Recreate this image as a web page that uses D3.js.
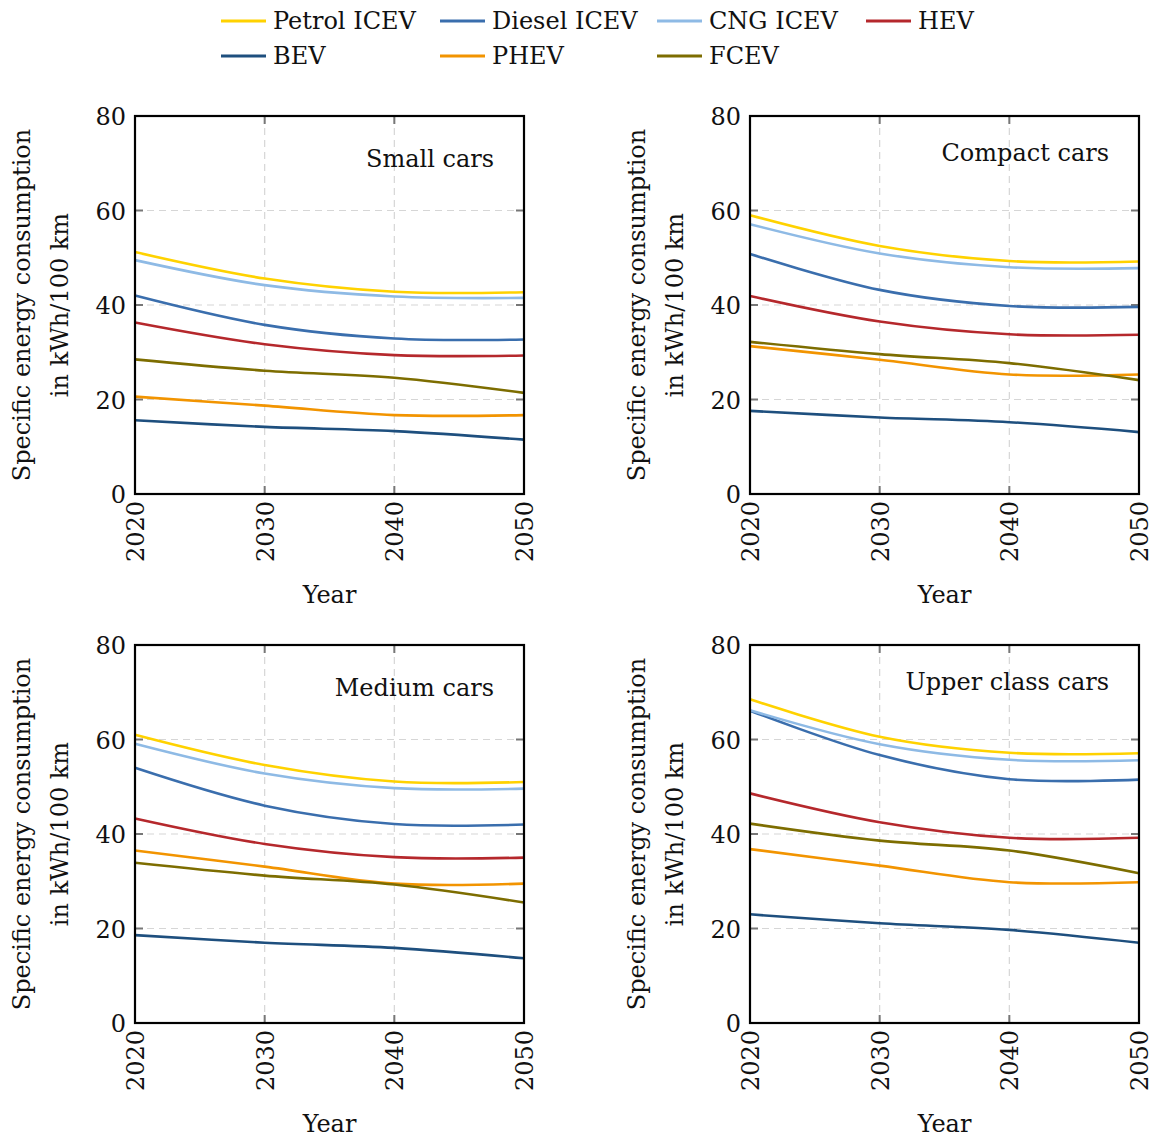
<!DOCTYPE html>
<html>
<head>
<meta charset="utf-8">
<script src="https://cdn.jsdelivr.net/npm/d3@7"></script>
<style>
  body { margin: 0; background: #fff; }
  text { font-family: "DejaVu Serif", "Liberation Serif", serif; fill: #111; }
</style>
</head>
<body>
<svg id="chart" width="1155" height="1137"></svg>
<script>
// values (kWh/100 km)
const years = [2020, 2030, 2040, 2050];
const seriesNames = ['Petrol ICEV', 'Diesel ICEV', 'CNG ICEV', 'HEV', 'BEV', 'PHEV', 'FCEV'];
const seriesColors = ['#FFD200', '#3A6EAD', '#8EBAE5', '#B5282C', '#1E4F7E', '#F29400', '#7D6D00'];
const panelTitles = ['Small cars', 'Compact cars', 'Medium cars', 'Upper class cars'];
const yTicks = [0, 20, 40, 60, 80];

const smallCars = [
  [51.2, 45.6, 42.8, 42.7],
  [42.0, 35.8, 32.9, 32.7],
  [49.5, 44.2, 41.8, 41.5],
  [36.3, 31.7, 29.4, 29.3],
  [15.6, 14.2, 13.3, 11.5],
  [20.6, 18.7, 16.7, 16.7],
  [28.5, 26.1, 24.6, 21.4]
];
const compactCars = [
  [59.0, 52.5, 49.3, 49.2],
  [50.8, 43.2, 39.8, 39.6],
  [57.1, 50.9, 48.0, 47.8],
  [41.9, 36.5, 33.8, 33.7],
  [17.6, 16.2, 15.2, 13.1],
  [31.3, 28.4, 25.3, 25.3],
  [32.2, 29.6, 27.7, 24.1]
];
const mediumCars = [
  [61.0, 54.6, 51.1, 51.0],
  [54.0, 46.0, 42.1, 42.0],
  [59.1, 52.8, 49.7, 49.6],
  [43.3, 37.9, 35.1, 35.0],
  [18.6, 17.0, 15.9, 13.7],
  [36.5, 33.1, 29.5, 29.5],
  [33.9, 31.2, 29.3, 25.5]
];
const upperCars = [
  [68.5, 60.6, 57.2, 57.1],
  [66.1, 56.7, 51.6, 51.5],
  [66.2, 59.0, 55.7, 55.6],
  [48.6, 42.5, 39.2, 39.2],
  [23.0, 21.1, 19.7, 17.0],
  [36.8, 33.3, 29.8, 29.8],
  [42.2, 38.6, 36.5, 31.7]
];
const panelData = [smallCars, compactCars, mediumCars, upperCars];

const svg = d3.select('#chart');
const plotW = 389, plotH = 378;
const fontSize = 24;
const panelPos = [
  {x: 135, y: 116}, {x: 750, y: 116},
  {x: 135, y: 645}, {x: 750, y: 645}
];

// legend
const legendCols = [221, 440, 657, 866];
const legend = svg.append('g').attr('class', 'legend');
seriesNames.forEach((name, i) => {
  const row = i < 4 ? 0 : 1;
  const col = i < 4 ? i : i - 4;
  const x = legendCols[col];
  const y = row === 0 ? 21 : 56;
  legend.append('line')
    .attr('x1', x).attr('x2', x + 45)
    .attr('y1', y).attr('y2', y)
    .attr('stroke', seriesColors[i]).attr('stroke-width', 3);
  legend.append('text')
    .attr('x', x + 52).attr('y', y + 8)
    .attr('font-size', fontSize)
    .text(name);
});

const drawPanel = (data, title, pos) => {
  const xScale = d3.scaleLinear().domain([2020, 2050]).range([0, plotW]);
  const yScale = d3.scaleLinear().domain([0, 80]).range([plotH, 0]);

  const g = svg.append('g')
    .attr('transform', `translate(${pos.x}, ${pos.y})`);

  // dashed grid
  g.append('g')
    .selectAll('line').data(years.slice(1, -1))
    .enter().append('line')
      .attr('x1', d => xScale(d)).attr('x2', d => xScale(d))
      .attr('y1', 0).attr('y2', plotH)
      .attr('stroke', '#d6d6d6').attr('stroke-width', 1.2)
      .attr('stroke-dasharray', '7,5');
  g.append('g')
    .selectAll('line').data(yTicks.slice(1, -1))
    .enter().append('line')
      .attr('x1', 0).attr('x2', plotW)
      .attr('y1', d => yScale(d)).attr('y2', d => yScale(d))
      .attr('stroke', '#d6d6d6').attr('stroke-width', 1.2)
      .attr('stroke-dasharray', '7,5');

  // ticks inside on all four sides
  const tickLen = 8;
  const tickStyle = sel => sel.attr('stroke', '#777').attr('stroke-width', 2);
  years.slice(1, -1).forEach(yr => {
    g.append('line').call(tickStyle)
      .attr('x1', xScale(yr)).attr('x2', xScale(yr))
      .attr('y1', plotH).attr('y2', plotH - tickLen);
    g.append('line').call(tickStyle)
      .attr('x1', xScale(yr)).attr('x2', xScale(yr))
      .attr('y1', 0).attr('y2', tickLen);
  });
  yTicks.slice(1, -1).forEach(v => {
    g.append('line').call(tickStyle)
      .attr('x1', 0).attr('x2', tickLen)
      .attr('y1', yScale(v)).attr('y2', yScale(v));
    g.append('line').call(tickStyle)
      .attr('x1', plotW).attr('x2', plotW - tickLen)
      .attr('y1', yScale(v)).attr('y2', yScale(v));
  });

  // series
  const line = d3.line()
    .x((d, i) => xScale(years[i]))
    .y(d => yScale(d))
    .curve(d3.curveCardinal.tension(0));
  data.forEach((vals, i) => {
    g.append('path')
      .datum(vals)
      .attr('fill', 'none')
      .attr('stroke', seriesColors[i])
      .attr('stroke-width', 2.6)
      .attr('d', line);
  });

  // frame
  g.append('rect')
    .attr('width', plotW).attr('height', plotH)
    .attr('fill', 'none').attr('stroke', '#000').attr('stroke-width', 2.2);

  // y tick labels
  const yAxis = g.append('g');
  yTicks.forEach(v => {
    yAxis.append('text')
      .attr('x', -9).attr('y', yScale(v) + 9)
      .attr('text-anchor', 'end')
      .attr('font-size', fontSize)
      .text(v);
  });

  // x tick labels, rotated
  years.forEach(yr => {
    g.append('text')
      .attr('transform', `translate(${xScale(yr) + 9}, ${plotH + 7}) rotate(-90)`)
      .attr('text-anchor', 'end')
      .attr('font-size', fontSize)
      .text(yr);
  });

  // axis titles
  g.append('text')
    .attr('x', plotW / 2).attr('y', plotH + 109)
    .attr('text-anchor', 'middle')
    .attr('font-size', fontSize)
    .text('Year');
  const yLab = g.append('text')
    .attr('transform', `translate(-105, ${plotH / 2}) rotate(-90)`)
    .attr('text-anchor', 'middle')
    .attr('font-size', fontSize);
  yLab.append('tspan').attr('x', 0).attr('dy', 0).text('Specific energy consumption');
  yLab.append('tspan').attr('x', 0).attr('dy', 38).text('in kWh/100 km');

  // panel title
  const hasDesc = /[pgqy]/.test(title);
  g.append('text')
    .attr('x', plotW - 30).attr('y', hasDesc ? 45 : 51)
    .attr('text-anchor', 'end')
    .attr('font-size', fontSize)
    .text(title);
};

panelData.forEach((data, i) => drawPanel(data, panelTitles[i], panelPos[i]));
</script>
</body>
</html>
